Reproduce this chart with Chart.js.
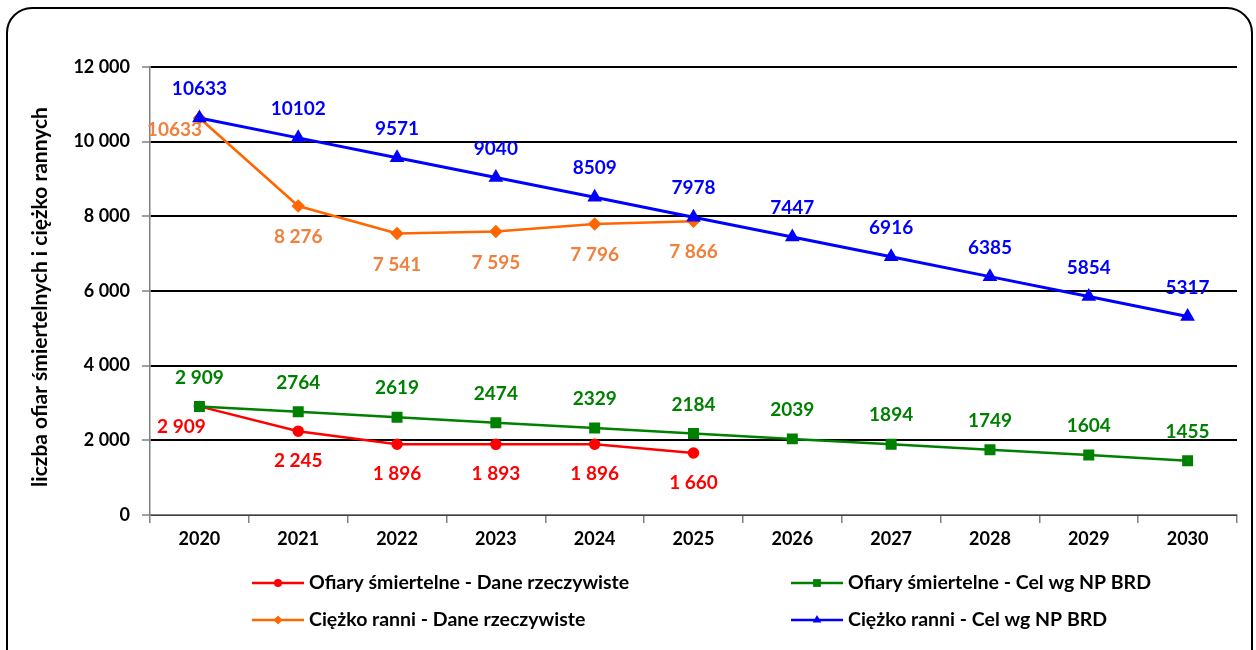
<!DOCTYPE html>
<html>
<head>
<meta charset="utf-8">
<script src="https://cdn.jsdelivr.net/npm/chart.js@4.4.1/dist/chart.umd.min.js"></script>
<style>
  html, body { margin: 0; padding: 0; background: #fff; overflow: hidden; }
  #frame { position: absolute; left: 6px; top: 7px; width: 1247px; height: 720px;
           border: 2px solid #000; border-radius: 26px; box-sizing: border-box; }
  #wrap { position: absolute; left: 0; top: 0; width: 1256px; height: 650px; }
</style>
</head>
<body>
<div id="frame"></div>
<div id="wrap"><canvas id="c" width="1256" height="650"></canvas></div>
<script>
// categories
const years = ["2020", "2021", "2022", "2023", "2024", "2025", "2026", "2027", "2028", "2029", "2030"];

// real data (to 2025)
const deathsActual = [2909, 2245, 1896, 1893, 1896, 1660];
const injuredActual = [10633, 8276, 7541, 7595, 7796, 7866];

// targets NP BRD
const deathsTarget = [2909, 2764, 2619, 2474, 2329, 2184, 2039, 1894, 1749, 1604, 1455];
const injuredTarget = [10633, 10102, 9571, 9040, 8509, 7978, 7447, 6916, 6385, 5854, 5317];

const yMin = 0, yMax = 12000, yStep = 2000;

const FONT = "Lato, 'Open Sans', sans-serif";

function spaced(v) {
  return String(v).replace(/\B(?=(\d{3})+(?!\d))/g, " ");
}

const datasets = [
  {
    label: "Ofiary śmiertelne - Dane rzeczywiste",
    data: deathsActual,
    borderColor: "#FF0000", backgroundColor: "#FF0000",
    pointStyle: "circle", pointRadius: 4.5, borderWidth: 2.5, order: 1,
    lbl: { color: "#FF0000", dy: 30, first: { dx: -18, dy: 20 }, spaced: true }
  },
  {
    label: "Ciężko ranni - Dane rzeczywiste",
    data: injuredActual,
    borderColor: "#FF6600", backgroundColor: "#FF6600",
    pointStyle: "rectRot", pointRadius: 5, borderWidth: 2.5, order: 1,
    lbl: { color: "#F0803C", dy: 31, first: { dx: -25, dy: 12 }, spaced: true, plainFirst: true }
  },
  {
    label: "Ofiary śmiertelne - Cel wg NP BRD",
    data: deathsTarget,
    borderColor: "#008000", backgroundColor: "#008000",
    pointStyle: "rect", pointRadius: 6, borderWidth: 2.5, order: 0,
    lbl: { color: "#008000", dy: -29, spacedFirst: true }
  },
  {
    label: "Ciężko ranni - Cel wg NP BRD",
    data: injuredTarget,
    borderColor: "#0000FF", backgroundColor: "#0000FF",
    pointStyle: "triangle", pointRadius: 5.5, borderWidth: 3, order: 0,
    lbl: { color: "#0000FF", dy: -29 }
  }
];

// value labels next to points
const valueLabels = {
  id: "valueLabels",
  afterDatasetsDraw(chart) {
    const ctx = chart.ctx;
    ctx.save();
    ctx.font = "bold 19px " + FONT;
    ctx.textAlign = "center";
    ctx.textBaseline = "middle";
    chart.data.datasets.forEach((ds, di) => {
      const meta = chart.getDatasetMeta(di);
      const o = ds.lbl;
      ctx.fillStyle = o.color;
      meta.data.forEach((pt, i) => {
        const v = ds.data[i];
        let txt = String(v);
        if (o.spaced && !(o.plainFirst && i === 0)) txt = spaced(v);
        if (o.spacedFirst && i === 0) txt = spaced(v);
        let dx = 0, dy = o.dy;
        if (i === 0 && o.first) { dx = o.first.dx; dy = o.first.dy; }
        ctx.fillText(txt, pt.x + dx, pt.y + dy);
      });
    });
    ctx.restore();
  }
};

function drawMarker(ctx, style, r, x, y) {
  ctx.beginPath();
  if (style === "circle") {
    ctx.arc(x, y, r, 0, Math.PI * 2);
  } else if (style === "rect") {
    const s = r * Math.SQRT2 / 2;
    ctx.rect(x - s, y - s, 2 * s, 2 * s);
  } else if (style === "rectRot") {
    ctx.moveTo(x, y - r); ctx.lineTo(x + r, y); ctx.lineTo(x, y + r); ctx.lineTo(x - r, y);
  } else if (style === "triangle") {
    ctx.moveTo(x, y - r); ctx.lineTo(x + r * 0.87, y + r / 2); ctx.lineTo(x - r * 0.87, y + r / 2);
  }
  ctx.closePath();
  ctx.fill();
}

// legend in two columns, plus y axis title
const extras = {
  id: "extras",
  afterDraw(chart) {
    const ctx = chart.ctx;
    ctx.save();
    const pos = [[252, 583], [252, 620], [791, 583], [791, 620]];
    chart.data.datasets.forEach((ds, i) => {
      const [x, y] = pos[i];
      ctx.strokeStyle = ds.borderColor;
      ctx.fillStyle = ds.borderColor;
      ctx.lineWidth = 2.5;
      ctx.beginPath(); ctx.moveTo(x, y); ctx.lineTo(x + 52, y); ctx.stroke();
      drawMarker(ctx, ds.pointStyle, ds.pointRadius - 0.5, x + 26, y);
      ctx.fillStyle = "#000";
      ctx.font = "bold 19.5px " + FONT;
      ctx.textAlign = "left";
      ctx.textBaseline = "middle";
      ctx.fillText(ds.label, x + 57, y);
    });
    ctx.translate(40, 297);
    ctx.rotate(-Math.PI / 2);
    ctx.textAlign = "center";
    ctx.textBaseline = "middle";
    ctx.font = "bold 21px " + FONT;
    ctx.fillStyle = "#000";
    ctx.fillText("liczba ofiar śmiertelnych i ciężko rannych", 0, 0);
    ctx.restore();
  }
};

new Chart(document.getElementById("c"), {
  type: "line",
  data: { labels: years, datasets: datasets },
  options: {
    responsive: false,
    animation: false,
    devicePixelRatio: 1,
    layout: { padding: { top: 67, right: 19, bottom: 0, left: 0 } },
    elements: { line: { tension: 0 } },
    plugins: { legend: { display: false }, tooltip: { enabled: false } },
    scales: {
      x: {
        offset: true,
        afterFit(s) { s.height = 135; },
        grid: { offset: true, drawOnChartArea: false, color: "#808080", tickLength: 8, lineWidth: 1.5 },
        border: { color: "#808080", width: 1.5 },
        ticks: { color: "#000", font: { family: FONT, size: 18, weight: "bold" }, padding: 5 }
      },
      y: {
        min: yMin, max: yMax,
        afterFit(s) { s.width = 150; },
        grid: { color: "#000", lineWidth: 2, tickColor: "#808080", tickLength: 8, tickWidth: 1.5 },
        border: { color: "#808080", width: 1.5 },
        ticks: {
          stepSize: yStep, color: "#000", padding: 12,
          font: { family: FONT, size: 18, weight: "bold" },
          callback: v => spaced(v)
        }
      }
    }
  },
  plugins: [valueLabels, extras]
});
</script>
</body>
</html>
